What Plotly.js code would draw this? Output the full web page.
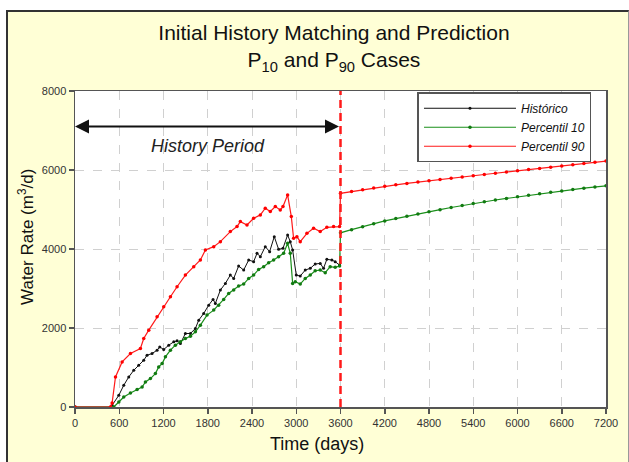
<!DOCTYPE html>
<html>
<head>
<meta charset="utf-8">
<script src="https://cdn.plot.ly/plotly-3.0.1.min.js"></script>
<style>
  html, body { margin: 0; padding: 0; background: #ffffff; overflow: hidden; }
  #frame { position: absolute; left: 6px; top: 10px; width: 620px; height: 470px;
           border-left: 2px solid #333; border-top: 2px solid #333; border-right: 1px solid #999;
           background: #FFFFD6; }
  #chart { position: absolute; left: 0; top: 0; width: 629px; height: 462px; }
</style>
</head>
<body>
<div id="frame"></div>
<div id="chart"></div>
<script>
// ---- Data ----
const forecastStart = 3600;

const histDays = [0, 480, 503, 594, 661, 729, 797, 864, 932, 977, 1045, 1113, 1149, 1203, 1271, 1339, 1384, 1429, 1497, 1565, 1632, 1678, 1745, 1813, 1872, 1903, 1971, 2039, 2106, 2152, 2219, 2287, 2355, 2422, 2468, 2513, 2580, 2639, 2702, 2761, 2820, 2883, 2919, 2951, 3000, 3054, 3122, 3190, 3257, 3325, 3370, 3415, 3483, 3528, 3587];
const histRate = [0, 0, 42, 296, 550, 761, 930, 1057, 1184, 1311, 1353, 1438, 1522, 1455, 1565, 1649, 1675, 1607, 1861, 1861, 1987, 2199, 2368, 2579, 2723, 2622, 2960, 3129, 3340, 3256, 3569, 3467, 3721, 3679, 3890, 3806, 4059, 3933, 4313, 3992, 4017, 4355, 4186, 3975, 3340, 3315, 3467, 3510, 3620, 3636, 3510, 3738, 3721, 3679, 3594];

const p10HistDays = [0, 526, 594, 661, 752, 842, 910, 955, 1023, 1090, 1135, 1181, 1226, 1294, 1361, 1429, 1497, 1565, 1632, 1700, 1790, 1881, 1948, 2016, 2084, 2152, 2219, 2287, 2355, 2422, 2490, 2558, 2626, 2693, 2761, 2829, 2883, 2919, 2951, 2987, 3054, 3122, 3190, 3257, 3325, 3393, 3460, 3528, 3587];
const p10HistRate = [0, 0, 127, 254, 355, 440, 507, 634, 719, 846, 1015, 1099, 1269, 1438, 1565, 1649, 1734, 1793, 1903, 2072, 2326, 2453, 2579, 2723, 2875, 2960, 3061, 3112, 3256, 3340, 3484, 3552, 3653, 3721, 3806, 3890, 4144, 3890, 3129, 3171, 3112, 3256, 3340, 3450, 3467, 3400, 3552, 3535, 3569];

const p90HistDays = [0, 481, 503, 549, 639, 752, 887, 932, 1000, 1113, 1203, 1294, 1384, 1497, 1610, 1700, 1768, 1881, 1971, 2106, 2197, 2242, 2332, 2422, 2513, 2580, 2648, 2716, 2783, 2820, 2883, 2933, 2964, 3009, 3054, 3145, 3235, 3325, 3415, 3506, 3587];
const p90HistRate = [0, 0, 100, 761, 1142, 1353, 1480, 1734, 1945, 2283, 2537, 2791, 3045, 3340, 3552, 3721, 3975, 4059, 4186, 4440, 4567, 4694, 4609, 4778, 4863, 5032, 4948, 5074, 4990, 5074, 5370, 4820, 4271, 4313, 4186, 4397, 4524, 4440, 4550, 4567, 4567];

const predDays = [3600, 3750, 3900, 4050, 4200, 4350, 4500, 4650, 4800, 4950, 5100, 5250, 5400, 5550, 5700, 5850, 6000, 6150, 6300, 6450, 6600, 6750, 6900, 7050, 7200];
const p10PredRate = [4410, 4490, 4565, 4640, 4710, 4770, 4830, 4885, 4940, 4995, 5050, 5100, 5150, 5195, 5240, 5280, 5320, 5360, 5400, 5435, 5470, 5505, 5540, 5570, 5600];
const p90PredRate = [5410, 5455, 5500, 5545, 5590, 5625, 5660, 5695, 5727, 5760, 5790, 5822, 5854, 5886, 5918, 5950, 5980, 6010, 6040, 6070, 6100, 6130, 6162, 6194, 6226];

const xTicks = [0, 600, 1200, 1800, 2400, 3000, 3600, 4200, 4800, 5400, 6000, 6600, 7200];
const yTicks = [0, 2000, 4000, 6000, 8000];
const seriesNames = ['Histórico', 'Percentil 10', 'Percentil 90'];

// ---- Chart ----
const FONT = 'Liberation Sans, Arial, Helvetica, sans-serif';

const traces = [
  {
    name: seriesNames[0], x: histDays, y: histRate, type: 'scatter', mode: 'lines+markers',
    line: { color: '#111111', width: 1 }, marker: { color: '#111111', size: 3 }
  },
  {
    name: seriesNames[1], x: p10HistDays.concat(predDays), y: p10HistRate.concat(p10PredRate),
    type: 'scatter', mode: 'lines+markers',
    line: { color: '#1a8f1a', width: 1.2 }, marker: { color: '#117a11', size: 3.5 }
  },
  {
    name: seriesNames[2], x: p90HistDays.concat(predDays), y: p90HistRate.concat(p90PredRate),
    type: 'scatter', mode: 'lines+markers',
    line: { color: '#ff1a1a', width: 1.2 }, marker: { color: '#ff0000', size: 3.5 }
  }
];

const layout = {
  width: 629, height: 462,
  margin: { l: 75, r: 23, t: 91, b: 55 },
  paper_bgcolor: 'rgba(0,0,0,0)',
  plot_bgcolor: '#ffffff',
  font: { family: FONT, color: '#222' },
  title: {
    text: 'Initial History Matching and Prediction<br>P<sub>10</sub> and P<sub>90</sub> Cases',
    x: 0.531, xanchor: 'center', y: 0.913, yanchor: 'middle',
    font: { family: FONT, size: 21, color: '#111' }
  },
  xaxis: {
    range: [0, 7200], tickvals: xTicks, ticktext: xTicks.map(String),
    ticks: 'outside', ticklen: 5, tickwidth: 1.5, tickcolor: '#555',
    showline: true, mirror: true, linecolor: '#555', linewidth: 1.5,
    showgrid: true, gridcolor: '#d0d0d0', griddash: 'dash', gridwidth: 1,
    zeroline: false,
    tickfont: { family: FONT, size: 11, color: '#333' }
  },
  yaxis: {
    range: [0, 8000], tickvals: yTicks, ticktext: yTicks.map(String),
    ticks: 'outside', ticklen: 5, tickwidth: 1.5, tickcolor: '#555',
    showline: true, mirror: true, linecolor: '#555', linewidth: 1.5,
    showgrid: true, gridcolor: '#d0d0d0', griddash: 'dash', gridwidth: 1,
    zeroline: false,
    tickfont: { family: FONT, size: 11, color: '#333' }
  },
  showlegend: true,
  legend: {
    x: 0.645, y: 0.996, xanchor: 'left', yanchor: 'top',
    bgcolor: '#ffffff', bordercolor: '#555', borderwidth: 1.5,
    itemwidth: 92, tracegroupgap: 0,
    font: { family: FONT, size: 12, color: '#111', style: 'italic' }
  },
  shapes: [
    {
      type: 'line', xref: 'x', yref: 'paper', x0: forecastStart, x1: forecastStart, y0: 0, y1: 1,
      line: { color: '#ff1a1a', width: 2.5, dash: '8px,5px' }
    }
  ],
  annotations: [
    {
      xref: 'paper', yref: 'paper', x: 0.4557, y: -0.117, xanchor: 'center', yanchor: 'middle',
      text: 'Time (days)', showarrow: false,
      font: { family: FONT, size: 18, color: '#111' }
    },
    {
      xref: 'paper', yref: 'paper', x: -0.0923, y: 0.538, xanchor: 'center', yanchor: 'middle',
      text: 'Water Rate (m<sup>3</sup>/d)', textangle: -90, showarrow: false,
      font: { family: FONT, size: 17, color: '#111' }
    },
    {
      xref: 'x', yref: 'y', axref: 'x', ayref: 'y',
      x: 0, y: 7100, ax: forecastStart, ay: 7100, text: '',
      showarrow: true, arrowside: 'end+start', arrowhead: 2, startarrowhead: 2,
      arrowsize: 1.4, startarrowsize: 1.4, arrowwidth: 2, arrowcolor: '#111'
    },
    {
      xref: 'x', yref: 'y', x: 1800, y: 6600, text: 'History Period', showarrow: false,
      font: { family: FONT, size: 18, color: '#222', style: 'italic' }
    }
  ]
};

Plotly.newPlot('chart', traces, layout, { staticPlot: true, displayModeBar: false });
</script>
</body>
</html>
